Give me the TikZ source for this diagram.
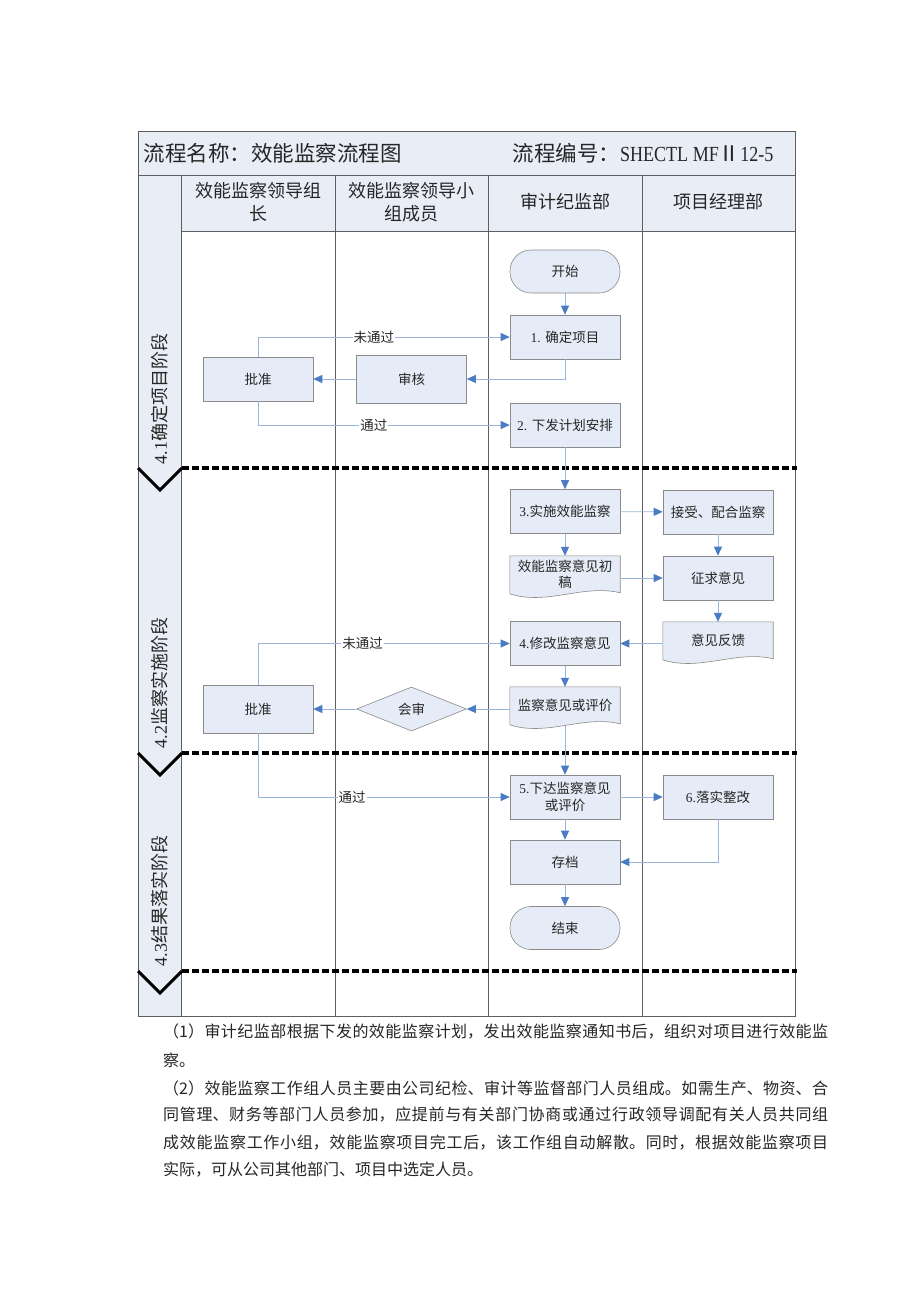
\documentclass[tikz,border=0pt]{standalone}
\usepackage{fontspec}
\setmainfont{Noto Sans CJK SC}
\newfontfamily\lat{Liberation Serif}
\newfontfamily\latc[FakeStretch=0.84]{Liberation Serif}
\usetikzlibrary{arrows.meta,shapes.geometric,backgrounds}
\definecolor{nodefill}{HTML}{E6ECF7}
\definecolor{nodedraw}{HTML}{8A8A8A}
\definecolor{linec}{HTML}{9AB5DB}
\definecolor{arrowc}{HTML}{4A7CC4}
\definecolor{gridc}{HTML}{5E5E5E}
\definecolor{hdrfill}{HTML}{E8EDF6}
\newcommand\jline[1]{\parbox{665pt}{\XeTeXlinebreaklocale "zh"\XeTeXlinebreakskip=0pt plus 4pt\relax\parfillskip=0pt #1}}
\begin{document}
\begin{tikzpicture}[x=1pt,y=-1pt,
  every node/.style={font=\fontsize{13.5}{16}\selectfont, text=black!85},
  box/.style={rectangle, draw=nodedraw, fill=nodefill, minimum width=110pt, minimum height=44pt, inner sep=2pt, line width=0.6pt, align=center},
  term/.style={box, rounded corners=21pt, minimum height=43pt},
  decision/.style={diamond, draw=nodedraw, fill=nodefill, minimum width=110pt, minimum height=44pt, inner sep=0pt, aspect=2.5, line width=0.6pt},
  docbox/.style={rectangle, minimum width=110pt, minimum height=36pt, inner sep=2pt, align=center},
  docshape/.style={draw=nodedraw, fill=nodefill, line width=0.6pt},
  conn/.style={draw=linec, line width=0.8pt, -{Triangle[length=9pt,width=8pt,color=arrowc]}},
  lbl/.style={fill=white, inner sep=1pt},
  gridline/.style={draw=gridc, line width=0.8pt},
  chev/.style={draw=black, line width=3pt},
  chevdash/.style={draw=black, line width=3.2pt, dash pattern=on 6.5pt off 3.5pt},
  hdr/.style={align=center, font=\fontsize{18}{23}\selectfont},
  phaselbl/.style={rotate=90, font=\fontsize{18}{20}\selectfont},
  body/.style={anchor=west, inner sep=0pt, font=\fontsize{16}{18}\selectfont},
]
\begin{pgfonlayer}{background}
\fill[white] (0,0) rectangle (920,1302);
\end{pgfonlayer}
\useasboundingbox (0,0) rectangle (920,1302);

% table
\fill[hdrfill] (138,131) rectangle (795,231);
\fill[hdrfill] (138,231) rectangle (181,1016);
\draw[gridline] (138,131) rectangle (795,1016);
\draw[gridline] (138,175) -- (795,175);
\draw[gridline] (181,231) -- (795,231);
\draw[gridline] (181,175) -- (181,1016);
\draw[gridline] (335,175) -- (335,1016);
\draw[gridline] (488,175) -- (488,1016);
\draw[gridline] (642,175) -- (642,1016);

% title
\node[anchor=west, font=\fontsize{21.5}{24}\selectfont] (title) at (140,153) {流程名称：效能监察流程图};
\node[anchor=west, font=\fontsize{21.5}{24}\selectfont] (code) at (509,153) {流程编号：{\latc SHECTL MF}Ⅱ{\latc 12-5}};

% headers
\node[hdr] (h1) at (258,202) {效能监察领导组\\长};
\node[hdr] (h2) at (411.5,202) {效能监察领导小\\组成员};
\node[hdr] (h3) at (565,202) {审计纪监部};
\node[hdr] (h4) at (718.5,202) {项目经理部};

% phases
\node[phaselbl] (p1) at (160,399) {{\lat 4.1}确定项目阶段};
\node[phaselbl] (p2) at (160,683) {{\lat 4.2}监察实施阶段};
\node[phaselbl] (p3) at (160,901) {{\lat 4.3}结果落实阶段};
\foreach \yy in {468,753,971} {
  \draw[chev, line join=miter] (138,\yy) -- (160,\yy+22) -- (182,\yy);
  \draw[chevdash] (182,\yy) -- (797,\yy);
}

% nodes
\node[term] (start) at (565,271.5) {开始};
\node[box] (n1) at (565,337) {{\lat 1. }确定项目};
\node[box] (n2) at (565,425) {{\lat 2. }下发计划安排};
\node[box] (n3) at (565,511.5) {{\lat 3.}实施效能监察};
\node[docbox] (cg) at (565,574) {效能监察意见初\\稿};
\node[box] (n4) at (565,643.5) {{\lat 4.}修改监察意见};
\node[docbox] (pj) at (565,705) {监察意见或评价};
\node[box, font=\fontsize{13.5}{17.5}\selectfont] (n5) at (565,797) {{\lat 5.}下达监察意见\\或评价};
\node[box] (cd) at (565,862) {存档};
\node[term] (end) at (565,928) {结束};
\node[box] (js) at (718,512) {接受、配合监察};
\node[box] (zq) at (718,578) {征求意见};
\node[docbox] (fk) at (718,640) {意见反馈};
\node[box] (n6) at (718,797) {{\lat 6.}落实整改};
\node[box] (pz1) at (258,379) {批准};
\node[box, minimum height=48pt] (sh) at (411.5,379) {审核};
\node[box, minimum height=48pt] (pz2) at (258,709) {批准};
\node[decision] (hs) at (411.5,709) {会审};

\begin{pgfonlayer}{background}
\foreach \d in {cg,pj,fk} {
  \path[docshape] (\d.north west) -- (\d.north east) -- ([yshift=-37pt]\d.north east)
    .. controls ([xshift=-36.7pt,yshift=-28pt]\d.north east) and ([xshift=-73.3pt,yshift=-50pt]\d.north east)
    .. ([yshift=-38pt]\d.north west) -- cycle;
}
\end{pgfonlayer}

% connectors
\draw[conn] (start) -- (n1);
\draw[conn] (n1.south) |- (sh.east);
\draw[conn] (sh) -- (pz1);
\draw[conn] (pz1.north) |- node[lbl,pos=0.73]{未通过} (n1.west);
\draw[conn] (pz1.south) |- node[lbl,pos=0.73]{通过} (n2.west);
\draw[conn] (n2) -- (n3);
\draw[conn] (n3) -- (js);
\draw[conn] (n3) -- (cg);
\draw[conn] (js) -- (zq);
\draw[conn] (cg.east |- zq.west) -- (zq.west);
\draw[conn] (zq) -- (fk);
\draw[conn] (fk.west |- n4.east) -- (n4.east);
\draw[conn] (n4) -- (pj);
\draw[conn] (pj.west |- hs.east) -- (hs.east);
\draw[conn] (hs) -- (pz2);
\draw[conn] (pz2.north) |- node[lbl,pos=0.708]{未通过} (n4.west);
\draw[conn] (pz2.south) |- node[lbl,pos=0.687]{通过} (n5.west);
\draw[conn] ([yshift=-3pt]pj.south) -- (n5.north);
\draw[conn] (n5) -- (n6);
\draw[conn] (n5) -- (cd);
\draw[conn] (n6.south) |- (cd.east);
\draw[conn] (cd) -- (end);

% notes
\node[body] (t1) at (163,1031) {\jline{（1）审计纪监部根据下发的效能监察计划，发出效能监察通知书后，组织对项目进行效能监}};
\node[body] (t2) at (163,1060) {察。};
\node[body] (t3) at (163,1088) {\jline{（2）效能监察工作组人员主要由公司纪检、审计等监督部门人员组成。如需生产、物资、合}};
\node[body] (t4) at (163,1115) {\jline{同管理、财务等部门人员参加，应提前与有关部门协商或通过行政领导调配有关人员共同组}};
\node[body] (t5) at (163,1143) {\jline{成效能监察工作小组，效能监察项目完工后，该工作组自动解散。同时，根据效能监察项目}};
\node[body] (t6) at (163,1170) {实际，可从公司其他部门、项目中选定人员。};
\end{tikzpicture}
\end{document}
